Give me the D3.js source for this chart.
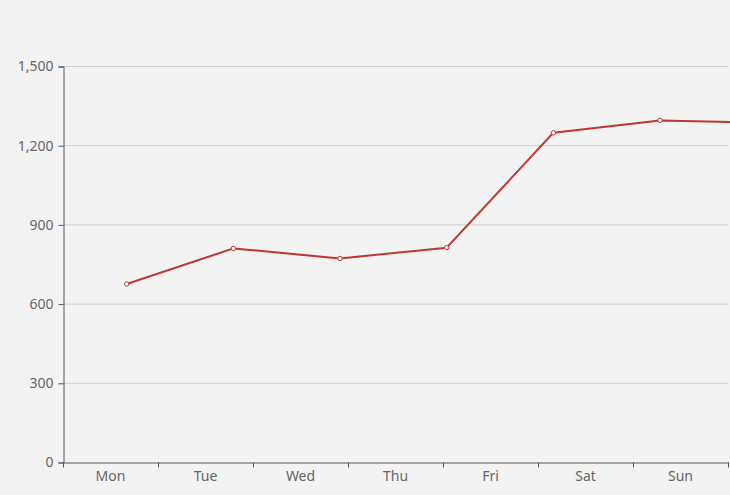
<!DOCTYPE html>
<html>
<head>
<meta charset="utf-8">
<script src="https://cdn.jsdelivr.net/npm/d3@7"></script>
<style>
  html, body { margin: 0; padding: 0; background: #f3f3f3; }
  svg { display: block; }
  text { font-family: "Noto Sans", "DejaVu Sans", sans-serif; }
</style>
</head>
<body>
<svg id="svg1" width="730" height="495"></svg>
<script>
// data
var days = ['Mon', 'Tue', 'Wed', 'Thu', 'Fri', 'Sat', 'Sun'];
var values = [674, 809, 771, 812, 1247, 1294, 1285];
var yTicks = [0, 300, 600, 900, 1200, 1500];

var svg = d3.select('#svg1');

var plotLeft = 63, plotRight = 728, plotTop = 66, plotBottom = 462;

var scaleX = d3.scaleBand().domain(days).range([plotLeft, plotRight]);
// the line sits on its own, wider spacing (last point falls off the edge)
var lineX = d3.scalePoint().domain(days).range([126.7, 766.7]);
var scaleY = d3.scaleLinear().domain([0, 1500]).range([plotBottom, plotTop]);

// grid lines
svg.append('g')
    .selectAll('line')
    .data(yTicks.slice(1))
    .enter()
    .append('line')
    .attr('x1', plotLeft)
    .attr('x2', plotRight)
    .attr('y1', function(d){ return scaleY(d) + 0.5; })
    .attr('y2', function(d){ return scaleY(d) + 0.5; })
    .attr('stroke', '#cfcfcf')
    .attr('stroke-width', 1);

// y axis
var yAxis = svg.append('g')
    .attr('transform', 'translate(' + (plotLeft + 0.5) + ',0.5)')
    .call(d3.axisLeft(scaleY).tickValues(yTicks).tickSize(5).tickPadding(5).tickFormat(d3.format(',')));

// x axis
var xAxis = svg.append('g')
    .attr('transform', 'translate(0,' + (plotBottom + 0.5) + ')')
    .call(d3.axisBottom(scaleX).tickSize(0).tickPadding(9));

xAxis.selectAll('.xtick')
    .data(d3.range(days.length + 1))
    .enter()
    .append('line')
    .attr('class', 'xtick')
    .attr('x1', function(i){ return Math.round(plotLeft + i * scaleX.step()) + 0.5; })
    .attr('x2', function(i){ return Math.round(plotLeft + i * scaleX.step()) + 0.5; })
    .attr('y1', 0)
    .attr('y2', 5)
    .attr('stroke', '#555');

[xAxis, yAxis].forEach(function(a){
    a.select('.domain').attr('stroke', '#555').attr('stroke-width', 1);
    a.selectAll('.tick line').attr('stroke', '#555');
    a.selectAll('text').attr('fill', '#666').style('font-size', '14px');
});

// the line
var line = d3.line()
    .x(function(d, i){ return lineX(days[i]); })
    .y(function(d){ return scaleY(d); });

svg.append('path')
    .datum(values)
    .attr('d', line)
    .attr('fill', 'none')
    .attr('stroke', '#c23531')
    .attr('stroke-width', 2)
    .attr('stroke-linejoin', 'round');

svg.selectAll('.dot')
    .data(values)
    .enter()
    .append('circle')
    .attr('class', 'dot')
    .attr('cx', function(d, i){ return lineX(days[i]); })
    .attr('cy', function(d){ return scaleY(d); })
    .attr('r', 2.2)
    .attr('fill', '#fff')
    .attr('stroke', '#c23531')
    .attr('stroke-width', 1);
</script>
</body>
</html>
